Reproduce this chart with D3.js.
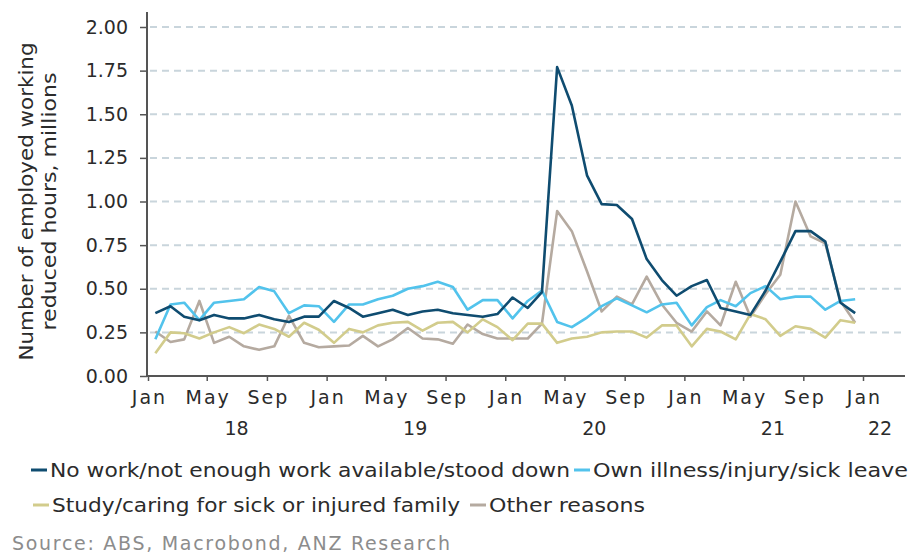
<!DOCTYPE html>
<html>
<head>
<meta charset="utf-8">
<script src="https://cdn.jsdelivr.net/npm/d3@7"></script>
<style>
  body { margin: 0; background: #fff; }
  svg text { font-family: "DejaVu Sans", Verdana, sans-serif; fill: #2b2b2b; }
</style>
</head>
<body>
<div id="chart"></div>
<script>
// monthly, Jan 2018 .. Dec 2021, millions of people
const startMonth = new Date(2018, 0, 1);
const noWork = [0.36, 0.40, 0.34, 0.32, 0.35, 0.33, 0.33, 0.35, 0.325, 0.31, 0.34, 0.34,
  0.43, 0.39, 0.34, 0.36, 0.38, 0.35, 0.37, 0.38, 0.36, 0.35, 0.34, 0.355,
  0.45, 0.39, 0.48, 1.77, 1.55, 1.15, 0.985, 0.98, 0.90, 0.67, 0.55, 0.46,
  0.515, 0.55, 0.39, 0.37, 0.35, 0.49, 0.655, 0.83, 0.83, 0.77, 0.42, 0.36];
const illness = [0.21, 0.41, 0.42, 0.32, 0.42, 0.43, 0.44, 0.51, 0.485, 0.36, 0.405, 0.40,
  0.31, 0.41, 0.41, 0.44, 0.46, 0.50, 0.515, 0.54, 0.51, 0.38, 0.435, 0.435,
  0.33, 0.43, 0.49, 0.31, 0.28, 0.335, 0.40, 0.445, 0.405, 0.365, 0.41, 0.42,
  0.29, 0.395, 0.435, 0.40, 0.475, 0.515, 0.44, 0.455, 0.455, 0.38, 0.43, 0.44];
const studyCaring = [0.13, 0.25, 0.245, 0.215, 0.25, 0.28, 0.245, 0.295, 0.27, 0.225, 0.305, 0.265,
  0.19, 0.27, 0.25, 0.29, 0.305, 0.31, 0.26, 0.305, 0.31, 0.25, 0.325, 0.28,
  0.205, 0.30, 0.30, 0.19, 0.215, 0.225, 0.25, 0.255, 0.255, 0.22, 0.29, 0.29,
  0.17, 0.27, 0.255, 0.21, 0.355, 0.325, 0.23, 0.285, 0.27, 0.22, 0.32, 0.305];
const otherReasons = [0.255, 0.195, 0.21, 0.43, 0.19, 0.225, 0.17, 0.15, 0.17, 0.345, 0.19, 0.165,
  0.17, 0.175, 0.23, 0.17, 0.21, 0.275, 0.215, 0.21, 0.185, 0.295, 0.24, 0.215,
  0.215, 0.215, 0.30, 0.945, 0.83, 0.60, 0.37, 0.455, 0.41, 0.57, 0.41, 0.305,
  0.255, 0.37, 0.29, 0.54, 0.34, 0.47, 0.58, 1.00, 0.80, 0.76, 0.43, 0.305];

const seriesNames = ["No work/not enough work available/stood down", "Own illness/injury/sick leave",
  "Study/caring for sick or injured family", "Other reasons"];
const seriesColors = ["#0f4c70", "#52c3ec", "#d2cc8c", "#b5aaa0"];
const yTicks = [0, 0.25, 0.5, 0.75, 1, 1.25, 1.5, 1.75, 2];
const yearLabels = ["18", "19", "20", "21", "22"];

const W = 911, H = 556;
const svg = d3.select("#chart").append("svg").attr("width", W).attr("height", H);

const x = d3.scaleTime()
  .domain([startMonth, new Date(2022, 0, 1)])
  .range([148, 863]);
const y = d3.scaleLinear().domain([0, 2]).range([376, 27]);
const axisRight = 905;

// dates at the middle of each month
const dates = noWork.map((d, i) => new Date(2018, i, 16));

// gridlines
svg.append("g").selectAll("line")
  .data(yTicks.filter(d => d > 0))
  .join("line")
  .attr("x1", 150).attr("x2", axisRight)
  .attr("y1", d => y(d)).attr("y2", d => y(d))
  .attr("stroke", "#c9d5dc")
  .attr("stroke-width", 2)
  .attr("stroke-dasharray", "7,5");

// y axis
const yAxis = svg.append("g")
  .attr("transform", "translate(147,0)")
  .call(d3.axisLeft(y).tickValues(yTicks).tickFormat(d3.format(".2f")).tickSize(7).tickPadding(12));
yAxis.select(".domain").attr("d", `M0,12V${y(0)}`).attr("stroke", "#555").attr("stroke-width", 2);
yAxis.selectAll(".tick line").attr("stroke", "#555").attr("stroke-width", 1.5);
yAxis.selectAll(".tick text").attr("font-size", 19).attr("fill", "#2b2b2b")
  .style("font-family", '"DejaVu Sans", Verdana, sans-serif');

// x axis
const xAxis = svg.append("g")
  .attr("transform", `translate(0,${y(0)})`)
  .call(d3.axisBottom(x).ticks(d3.timeMonth.every(4)).tickFormat(d3.timeFormat("%b")).tickSize(5).tickPadding(10));
xAxis.select(".domain").attr("d", `M147,0H${axisRight}`).attr("stroke", "#555").attr("stroke-width", 2);
xAxis.selectAll(".tick line").attr("stroke", "#555").attr("stroke-width", 1.5);
xAxis.selectAll(".tick text").attr("font-size", 19).attr("fill", "#2b2b2b")
  .attr("dx", 1)
  .style("letter-spacing", "2px")
  .style("font-family", '"DejaVu Sans", Verdana, sans-serif');

// year labels under the months, centred on mid-year
svg.append("g").selectAll("text")
  .data(yearLabels)
  .join("text")
  .attr("x", (d, i) => i < 4 ? x(new Date(2018 + i, 6, 1)) : 880)
  .attr("y", 435)
  .attr("text-anchor", "middle")
  .attr("font-size", 19)
  .text(d => d);

// y title
const titleLines = [["Number of employed working", 318], ["reduced hours, millions", 258]];
svg.append("text")
  .attr("transform", `translate(33,${(y(0) + y(2)) / 2}) rotate(-90)`)
  .attr("text-anchor", "middle")
  .attr("font-size", 19)
  .selectAll("tspan")
  .data(titleLines)
  .join("tspan")
  .attr("x", 0)
  .attr("y", (d, i) => i * 23)
  .attr("textLength", d => d[1])
  .attr("lengthAdjust", "spacingAndGlyphs")
  .text(d => d[0]);

// lines
const line = d3.line().x((d, i) => x(dates[i])).y(d => y(d));
const allSeries = [noWork, illness, studyCaring, otherReasons];
svg.append("g").selectAll("path")
  .data([3, 2, 1, 0])
  .join("path")
  .attr("d", k => line(allSeries[k]))
  .attr("fill", "none")
  .attr("stroke", k => seriesColors[k])
  .attr("stroke-width", 2.6)
  .attr("stroke-linejoin", "round");

// legend: text start, baseline, text width
const legendPos = [[50, 477, 520], [593, 477, 315], [52, 512, 408], [489, 512, 156]];
const legend = svg.append("g").selectAll("g")
  .data(seriesNames)
  .join("g")
  .attr("transform", (d, i) => `translate(${legendPos[i][0]},${legendPos[i][1]})`);
legend.append("line")
  .attr("x1", -19).attr("x2", -3).attr("y1", -7).attr("y2", -7)
  .attr("stroke", (d, i) => seriesColors[i]).attr("stroke-width", 3);
legend.append("text")
  .attr("font-size", 19)
  .attr("textLength", (d, i) => legendPos[i][2])
  .attr("lengthAdjust", "spacingAndGlyphs")
  .text(d => d);

// source
svg.append("text")
  .attr("x", 12).attr("y", 550)
  .attr("font-size", 19)
  .attr("textLength", 438)
  .attr("lengthAdjust", "spacing")
  .style("fill", "#8c8c8c")
  .text("Source: ABS, Macrobond, ANZ Research");
</script>
</body>
</html>
